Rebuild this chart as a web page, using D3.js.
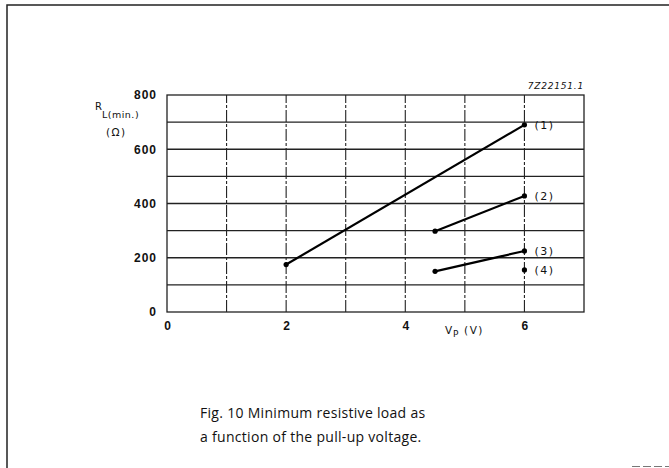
<!DOCTYPE html>
<html>
<head>
<meta charset="utf-8">
<script src="https://cdn.jsdelivr.net/npm/d3@7"></script>
<style>
  body { margin: 0; background: #fff; }
  svg { display: block; }
  text { font-family: "DejaVu Sans", Arial, sans-serif; fill: #111; }
</style>
</head>
<body>
<div id="container"></div>
<script>
/* CONSTANTS AND GLOBALS */
const width = 669,
  height = 468,
  margin = { top: 95, bottom: 156, left: 167, right: 85 };

/* DATA */
const xTicks = [0, 2, 4, 6];
const yTicks = [0, 200, 400, 600, 800];
const curve1 = [{ vp: 2, rl: 175 }, { vp: 6, rl: 690 }];
const curve2 = [{ vp: 4.5, rl: 298 }, { vp: 6, rl: 428 }];
const curve3 = [{ vp: 4.5, rl: 150 }, { vp: 6, rl: 225 }];
const curve4 = [{ vp: 6, rl: 155 }];
const curveLabels = ["(1)", "(2)", "(3)", "(4)"];

const svg = d3.select("#container")
  .append("svg")
  .attr("width", width)
  .attr("height", height);

// SCALES
const xScale = d3.scaleLinear()
  .domain([0, 7])
  .range([margin.left, width - margin.right]);

const yScale = d3.scaleLinear()
  .domain([0, 800])
  .range([height - margin.bottom, margin.top]);

// outer frame
svg.append("path")
  .attr("d", `M${width},5 L7,5 L7,${height}`)
  .attr("fill", "none")
  .attr("stroke", "#222")
  .attr("stroke-width", 1.5);
svg.append("line")
  .attr("x1", 632).attr("x2", width)
  .attr("y1", 466.5).attr("y2", 466.5)
  .attr("stroke", "#777")
  .attr("stroke-dasharray", "8,3");

// GRID
svg.append("g")
  .selectAll("line")
  .data(d3.range(1, 8))
  .join("line")
  .attr("x1", xScale(0)).attr("x2", xScale(7))
  .attr("y1", d => yScale(d * 100)).attr("y2", d => yScale(d * 100))
  .attr("stroke", "#222")
  .attr("stroke-width", 1.3);

svg.append("g")
  .selectAll("line")
  .data(d3.range(1, 7))
  .join("line")
  .attr("x1", d => xScale(d)).attr("x2", d => xScale(d))
  .attr("y1", yScale(0)).attr("y2", yScale(800))
  .attr("stroke", "#222")
  .attr("stroke-width", 1.1)
  .attr("stroke-dasharray", "12,2,3,2");

// plot border
svg.append("rect")
  .attr("x", xScale(0)).attr("y", yScale(800))
  .attr("width", xScale(7) - xScale(0))
  .attr("height", yScale(0) - yScale(800))
  .attr("fill", "none")
  .attr("stroke", "#222")
  .attr("stroke-width", 1.3);

// AXES
const xAxis = d3.axisBottom(xScale).tickValues(xTicks).tickFormat(d3.format("d")).tickSize(0).tickPadding(9);
svg.append("g")
  .attr("transform", `translate(0,${yScale(0)})`)
  .call(xAxis)
  .call(g => g.select(".domain").remove())
  .selectAll("text")
  .attr("font-size", 12)
  .attr("font-weight", "bold")
  .style("font-family", "Liberation Sans, Arial, sans-serif")
  .attr("fill", "#111");

const yAxis = d3.axisLeft(yScale).tickValues(yTicks).tickFormat(d3.format("d")).tickSize(0).tickPadding(10);
svg.append("g")
  .attr("transform", `translate(${xScale(0)},0)`)
  .call(yAxis)
  .call(g => g.select(".domain").remove())
  .selectAll("text")
  .attr("font-size", 12)
  .attr("font-weight", "bold")
  .attr("letter-spacing", 1)
  .style("font-family", "Liberation Sans, Arial, sans-serif")
  .attr("fill", "#111");

// LINES
const lineGen = d3.line()
  .x(d => xScale(d.vp))
  .y(d => yScale(d.rl));

const curves = [curve1, curve2, curve3, curve4];

svg.selectAll(".curve")
  .data(curves.filter(c => c.length > 1))
  .join("path")
  .attr("class", "curve")
  .attr("fill", "none")
  .attr("stroke", "#000")
  .attr("stroke-width", 2.2)
  .attr("d", d => lineGen(d));

svg.selectAll(".pt")
  .data(curves.flat())
  .join("circle")
  .attr("class", "pt")
  .attr("cx", d => xScale(d.vp))
  .attr("cy", d => yScale(d.rl))
  .attr("r", 2.6)
  .attr("fill", "#000");

svg.selectAll(".clabel")
  .data(curves)
  .join("text")
  .attr("class", "clabel")
  .attr("x", d => xScale(d[d.length - 1].vp) + 10)
  .attr("y", d => yScale(d[d.length - 1].rl) + 4)
  .attr("font-size", 11)
  .attr("letter-spacing", 1.5)
  .text((d, i) => curveLabels[i]);

// AXIS TITLES
const yTitle = svg.append("text")
  .attr("x", 95).attr("y", 110)
  .attr("font-size", 10);
yTitle.append("tspan").text("R");
yTitle.append("tspan").attr("dy", 8).attr("font-size", 9.5).attr("letter-spacing", 0.5).text("L(min.)");
svg.append("text")
  .attr("x", 106).attr("y", 136)
  .attr("font-size", 10.5)
  .attr("letter-spacing", 1.5)
  .text("(Ω)");

const xTitle = svg.append("text")
  .attr("x", 445).attr("y", 334)
  .attr("font-size", 10.5)
  .attr("letter-spacing", 0.8);
xTitle.append("tspan").text("V");
xTitle.append("tspan").attr("dy", 3).attr("font-size", 9).text("P");
xTitle.append("tspan").attr("dy", -3).attr("letter-spacing", 1.5).text(" (V)");

svg.append("text")
  .attr("x", width - margin.right)
  .attr("y", 89)
  .attr("text-anchor", "end")
  .attr("font-size", 9)
  .attr("font-style", "italic")
  .attr("letter-spacing", 0.8)
  .text("7Z22151.1");

// CAPTION
svg.append("text")
  .attr("x", 200).attr("y", 418)
  .attr("font-size", 14)
  .attr("letter-spacing", 0.3)
  .style("font-family", "Open Sans, DejaVu Sans, sans-serif")
  .text("Fig. 10  Minimum resistive load as");
svg.append("text")
  .attr("x", 200).attr("y", 442)
  .attr("font-size", 14)
  .attr("letter-spacing", 0.3)
  .style("font-family", "Open Sans, DejaVu Sans, sans-serif")
  .text("a function of the pull-up voltage.");
</script>
</body>
</html>
